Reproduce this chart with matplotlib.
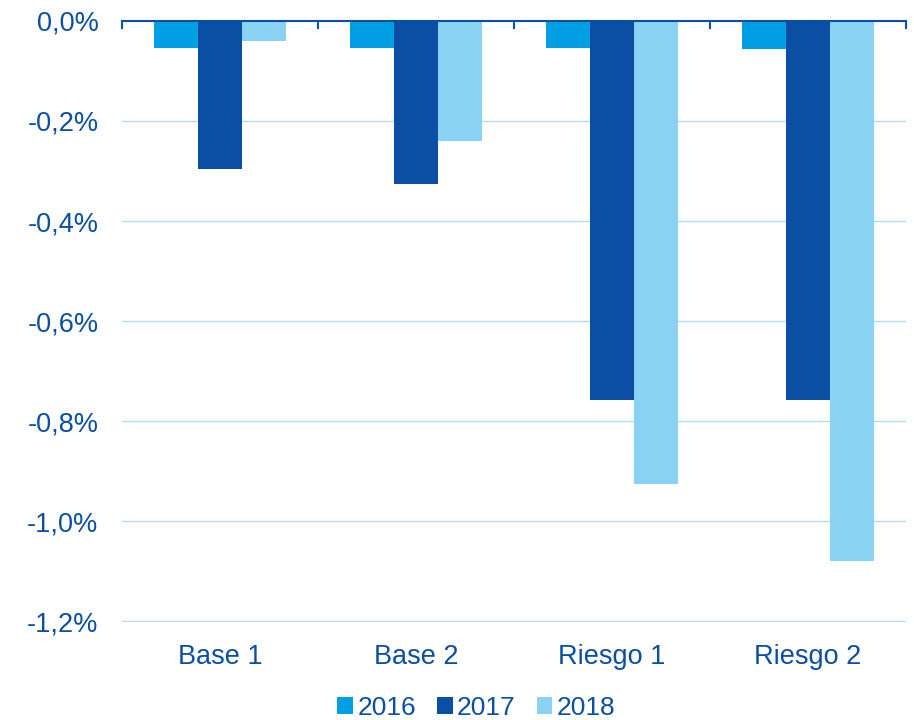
import numpy as np
import matplotlib.pyplot as plt

categories = ['Base 1', 'Base 2', 'Riesgo 1', 'Riesgo 2']
years = ['2016', '2017', '2018']
v2016 = [-0.054, -0.054, -0.054, -0.056]
v2017 = [-0.297, -0.325, -0.757, -0.757]
v2018 = [-0.040, -0.240, -0.925, -1.080]
yticks = [0.0, -0.2, -0.4, -0.6, -0.8, -1.0, -1.2]

colors = ['#009FE3', '#0A4FA3', '#8AD2F3']
text_col = '#0A4FA3'

plt.rcParams['font.family'] = ['Liberation Sans', 'DejaVu Sans']

fig = plt.figure(figsize=(9.14, 7.2), dpi=100)
ax = fig.add_axes([0.1335, 0.136, 0.8578, 0.835])

x = np.arange(len(categories))
w = 0.225
for i, (vals, yr) in enumerate(zip([v2016, v2017, v2018], years)):
    ax.bar(x + (i - 1) * w, vals, w, color=colors[i], label=yr, zorder=3)

ax.set_xlim(-0.5, len(categories) - 0.5)
ax.set_ylim(-1.2015, 0)
ax.set_yticks(yticks)
ax.set_yticklabels([f'{t:.1f}%'.replace('.', ',') for t in yticks])
ax.grid(axis='y', color='#AEDEF5', linewidth=1, zorder=0)

for s in ['left', 'right', 'bottom']:
    ax.spines[s].set_visible(False)
ax.spines['top'].set_color(text_col)
ax.spines['top'].set_linewidth(1.5)
ax.spines['top'].set_zorder(4)

ax.tick_params(axis='y', length=0, labelsize=19.5, labelcolor=text_col, pad=17)
ax.set_xticks(x)
ax.set_xticklabels(categories)
ax.tick_params(axis='x', length=0, labelsize=19.5, labelcolor=text_col, pad=16)

# boundary ticks on the zero line
ax.set_xticks(np.arange(-0.5, len(categories)), minor=True)
ax.tick_params(axis='x', which='minor', top=True, bottom=False, direction='in',
               length=6, width=1.5, color=text_col)

leg = fig.legend(loc='center', ncol=3, frameon=False, fontsize=19,
                 bbox_to_anchor=(0.521, 0.0167), handlelength=0.6, handleheight=0.6,
                 handletextpad=0.15, columnspacing=0.8, borderpad=0)
for t in leg.get_texts():
    t.set_color(text_col)

fig.savefig('out.png', dpi=100)
